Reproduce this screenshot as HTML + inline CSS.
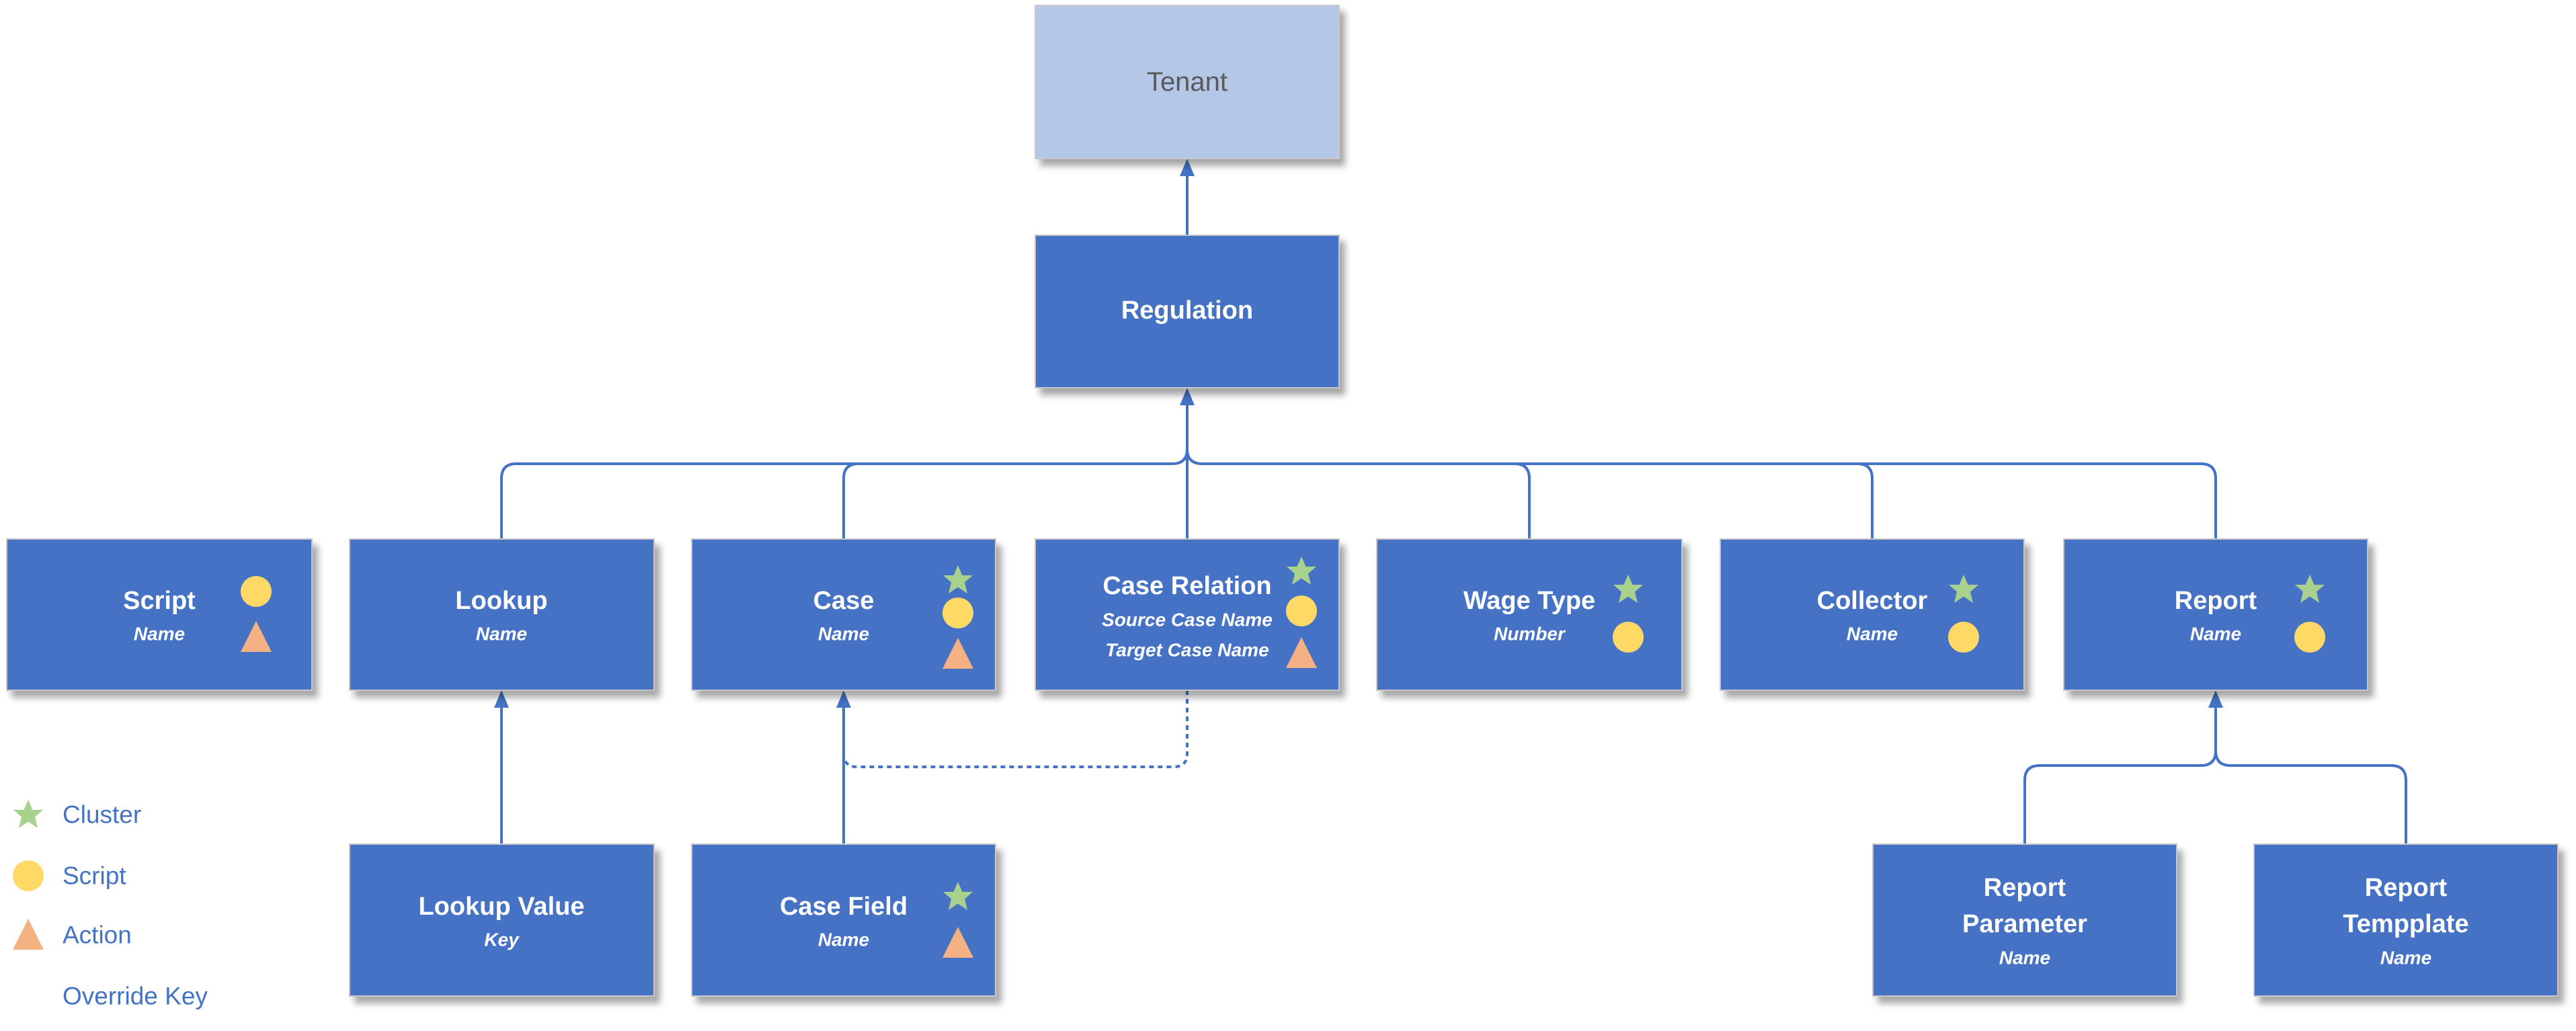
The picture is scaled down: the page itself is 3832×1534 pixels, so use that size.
<!DOCTYPE html>
<html><head><meta charset="utf-8"><style>
html,body{margin:0;padding:0;background:#fff;}
svg{display:block;}
text{font-family:"Liberation Sans",Arial,sans-serif;}
.t{font-weight:bold;font-size:38px;fill:#fff;text-anchor:middle;dominant-baseline:central;}
.s{font-weight:bold;font-style:italic;font-size:28px;fill:#fff;text-anchor:middle;dominant-baseline:central;}
.l{font-size:37px;fill:#4472C4;dominant-baseline:central;}
.c{fill:none;stroke:#4472C4;stroke-width:4;}
</style></head><body>
<svg width="3832" height="1534" viewBox="0 0 3832 1534" xmlns="http://www.w3.org/2000/svg">
<defs>
<filter id="sh" x="-5%" y="-5%" width="115%" height="120%">
<feDropShadow dx="8" dy="10" stdDeviation="5" flood-color="#000" flood-opacity="0.35"/>
</filter>
<g id="star"><polygon points="0,-22 6.5,-7 22,-7 10,3.5 14,20 0,10.5 -14,20 -10,3.5 -22,-7 -6.5,-7" fill="#A9D18E"/></g>
<g id="circ"><circle r="23" fill="#FFD966"/></g>
<g id="tri"><polygon points="0,-24 23,22 -23,22" fill="#F4B183"/></g>
</defs>

<!-- connectors -->
<path class="c" d="M1766,350 V250"/>
<polygon points="1766,236 1755,262 1777,262" fill="#4472C4"/>
<path class="c" d="M1766,802 V590"/>
<polygon points="1766,577 1755,603 1777,603" fill="#4472C4"/>
<path class="c" d="M746,802 V712 Q746,690 768,690 H1744 Q1766,690 1766,668"/>
<path class="c" d="M3296,802 V712 Q3296,690 3274,690 H1788 Q1766,690 1766,668"/>
<path class="c" d="M1255,802 V712 Q1255,690 1277,690"/>
<path class="c" d="M2275,802 V712 Q2275,690 2253,690"/>
<path class="c" d="M2785,802 V712 Q2785,690 2763,690"/>

<path class="c" d="M746,1256 V1040"/>
<polygon points="746,1027 735,1053 757,1053" fill="#4472C4"/>
<path class="c" d="M1255,1256 V1040"/>
<polygon points="1255,1027 1244,1053 1266,1053" fill="#4472C4"/>
<path class="c" d="M1766,1027 V1121 Q1766,1141 1746,1141 H1275 Q1255,1141 1255,1121" stroke-dasharray="7,6"/>

<path class="c" d="M3012,1256 V1161 Q3012,1139 3034,1139 H3274 Q3296,1139 3296,1117"/>
<path class="c" d="M3579,1256 V1161 Q3579,1139 3557,1139 H3318 Q3296,1139 3296,1117"/>
<path class="c" d="M3296,1117 V1040"/>
<polygon points="3296,1027 3285,1053 3307,1053" fill="#4472C4"/>

<!-- boxes -->
<g filter="url(#sh)" stroke="#c8c8c8" stroke-width="2">
<rect x="1540" y="8" width="452" height="228" fill="#B4C7E7"/>
<rect x="1540" y="350" width="452" height="227" fill="#4472C4"/>
<rect x="10" y="802" width="454" height="225" fill="#4472C4"/>
<rect x="520" y="802" width="453" height="225" fill="#4472C4"/>
<rect x="1029" y="802" width="452" height="225" fill="#4472C4"/>
<rect x="1540" y="802" width="452" height="225" fill="#4472C4"/>
<rect x="2048" y="802" width="454" height="225" fill="#4472C4"/>
<rect x="2559" y="802" width="452" height="225" fill="#4472C4"/>
<rect x="3070" y="802" width="452" height="225" fill="#4472C4"/>
<rect x="520" y="1256" width="453" height="226" fill="#4472C4"/>
<rect x="1029" y="1256" width="452" height="226" fill="#4472C4"/>
<rect x="2786" y="1256" width="452" height="226" fill="#4472C4"/>
<rect x="3353" y="1256" width="452" height="226" fill="#4472C4"/>
</g>

<!-- text -->
<text x="1766" y="122" style="font-size:40px;fill:#595959;text-anchor:middle;dominant-baseline:central;">Tenant</text>
<text class="t" x="1766" y="462">Regulation</text>

<text class="t" x="237" y="894">Script</text><text class="s" x="237" y="943">Name</text>
<text class="t" x="746" y="894">Lookup</text><text class="s" x="746" y="943">Name</text>
<text class="t" x="1255" y="894">Case</text><text class="s" x="1255" y="943">Name</text>
<text class="t" x="1766" y="872">Case Relation</text>
<text class="s" x="1766" y="922">Source Case Name</text>
<text class="s" x="1766" y="967">Target Case Name</text>
<text class="t" x="2275" y="894">Wage Type</text><text class="s" x="2275" y="943">Number</text>
<text class="t" x="2785" y="894">Collector</text><text class="s" x="2785" y="943">Name</text>
<text class="t" x="3296" y="894">Report</text><text class="s" x="3296" y="943">Name</text>
<text class="t" x="746" y="1349">Lookup Value</text><text class="s" x="746" y="1398">Key</text>
<text class="t" x="1255" y="1349">Case Field</text><text class="s" x="1255" y="1398">Name</text>
<text class="t" x="3012" y="1321">Report</text><text class="t" x="3012" y="1375">Parameter</text><text class="s" x="3012" y="1425">Name</text>
<text class="t" x="3579" y="1321">Report</text><text class="t" x="3579" y="1375">Tempplate</text><text class="s" x="3579" y="1425">Name</text>

<!-- icons -->
<use href="#circ" x="381" y="880"/><use href="#tri" x="381" y="948"/>
<use href="#star" x="1425" y="863"/><use href="#circ" x="1425" y="912"/><use href="#tri" x="1425" y="973"/>
<use href="#star" x="1936" y="850"/><use href="#circ" x="1936" y="909"/><use href="#tri" x="1936" y="972"/>
<use href="#star" x="2422" y="877"/><use href="#circ" x="2422" y="948"/>
<use href="#star" x="2921" y="877"/><use href="#circ" x="2921" y="948"/>
<use href="#star" x="3436" y="877"/><use href="#circ" x="3436" y="948"/>
<use href="#star" x="1425" y="1334"/><use href="#tri" x="1425" y="1403"/>

<!-- legend -->
<use href="#star" x="42" y="1212"/>
<use href="#circ" x="42" y="1303"/>
<use href="#tri" x="42" y="1391"/>
<text class="l" x="93" y="1212">Cluster</text>
<text class="l" x="93" y="1303">Script</text>
<text class="l" x="93" y="1391">Action</text>
<text class="l" x="93" y="1482">Override Key</text>
</svg>
</body></html>
